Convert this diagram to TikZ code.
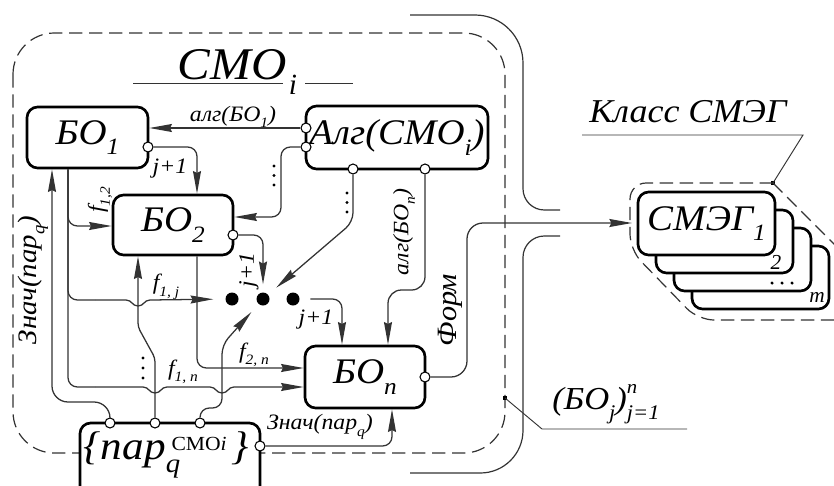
\documentclass[tikz,border=0pt]{standalone}
\usepackage{fontspec}
\setmainfont{Liberation Serif}
\usepackage{graphicx}
\usetikzlibrary{arrows.meta,calc}
\makeatletter
\newcommand\lsub[1]{\raisebox{-0.3em}{\fontsize{\the\dimexpr\f@size pt*65/100\relax}{0pt}\selectfont #1}}
\newcommand\usup[1]{\raisebox{0.5em}{\fontsize{\the\dimexpr\f@size pt*60/100\relax}{0pt}\selectfont #1}}
\makeatother
\newcommand\supsub[2]{\rlap{\usup{#1}}\lsub{#2}}
\newcommand\wide[1]{\scalebox{1.08}[1]{#1}}
\begin{document}
\begin{tikzpicture}[x=0.75pt,y=-0.75pt,
  box/.style={draw, line width=2pt, rounded corners=8pt, fill=white, inner sep=0pt},
  port/.style={circle, draw, line width=0.8pt, fill=white, inner sep=0pt, minimum size=7.5pt},
  conn/.style={draw=black!80, line width=0.95pt},
  rc/.style={rounded corners=7pt},
  arr/.style={-{Stealth[length=17pt,width=6pt,inset=1.5pt]}},
  bigdot/.style={circle, fill=black, inner sep=0pt, minimum size=9.75pt},
  sqdot/.style={rectangle, fill=black, inner sep=0pt, minimum size=3pt},
  dashedline/.style={draw=black!80, line width=0.9pt, dash pattern=on 10pt off 5pt},
  chanline/.style={draw=black!80, line width=0.9pt},
  thinline/.style={draw=black!80, line width=0.7pt},
  bigf/.style={font=\itshape\fontsize{27}{29}\selectfont, inner sep=0pt},
  lbl/.style={font=\itshape\fontsize{16.5}{18}\selectfont, inner sep=0pt},
  lblbig/.style={font=\itshape\fontsize{20}{22}\selectfont, inner sep=0pt},
  forml/.style={font=\itshape\fontsize{21}{23}\selectfont, inner sep=0pt},
  titlef/.style={font=\itshape\fontsize{34}{36}\selectfont, inner sep=0pt},
  titlesubf/.style={font=\itshape\fontsize{22}{24}\selectfont, inner sep=0pt},
  klassf/.style={font=\itshape\fontsize{25}{27}\selectfont, inner sep=0pt},
  bojf/.style={font=\itshape\fontsize{24}{26}\selectfont, inner sep=0pt},
  parf/.style={font=\itshape\fontsize{30}{32}\selectfont, inner sep=0pt},
  smallf/.style={font=\itshape\fontsize{16}{18}\selectfont, inner sep=0pt},
  smeg/.style={box, minimum width=102.75pt, minimum height=47.25pt},
  vdot/.style={circle, fill=black, inner sep=0pt, minimum size=2.6pt}
]
\useasboundingbox (0,0) rectangle (834,485);
\clip (0,0) rectangle (834,485);

% ---- outlines ----
\draw[dashedline, rounded corners=31pt] (13,33) rectangle (505,453);
\draw[chanline] (410,15) [rounded corners=36pt] -- (523,15) [rounded corners=16pt] -- (523,210) -- (560,210);
\draw[chanline] (560,236) [rounded corners=16pt] -- (523,236) [rounded corners=32pt] -- (523,473) -- (410,473);

% ---- SMEG stack ----
\node[sqdot] (kdot) at (773,183) {};
\draw[dashedline] (kdot.center) -- (860,270);
\draw[dashedline, rounded corners=12pt] (kdot.center) -- (630,183) -- (630,250) -- (698,320) -- (860,320);
\node[smeg] (S4) at (760.5,277.5) {};
\node[smeg] (S3) at (742.5,259.5) {};
\node[smeg] (S2) at (724.5,241.5) {};
\node[smeg, bigf] (S1) at (706.5,223.5) {\wide{СМЭГ\lsub{1}}};
\node[smallf] (s2l) at (776,262) {2};
\node[smallf] (sml) at (817,297) {m};
\node[vdot] (sd1) at (772,283) {};
\node[vdot] (sd2) at (782,283) {};
\node[vdot] (sd3) at (792,283) {};
\coordinate (smegin) at (632,223);

% ---- label pointers ----
\coordinate (kl1) at (803,135);
\coordinate (kl2) at (582,135);
\draw[thinline] (kdot.center) -- (kl1) -- (kl2);
\node[sqdot] (bdot) at (505,398) {};
\coordinate (bl1) at (542,429);
\coordinate (bl2) at (687,429);
\draw[thinline] (bdot.center) -- (bl1) -- (bl2);
\node[klassf] (tklass) at (688,112) {\wide{Класс СМЭГ}};
\node[bojf] (tboj) at (606,404) {\wide{(БО\lsub{j})\supsub{n}{j=1}}};

% ---- title ----
\node[titlef] (tcmo) at (232,65) {\wide{СМО}};
\node[titlesubf] (tcmoi) at (293,85) {i};
\draw[thinline] (133,83) -- (283,83);
\draw[thinline] (305,83) -- (353,83);

% ---- boxes ----
\node[box, bigf, minimum width=90.75pt, minimum height=45.75pt] (BO1) at (87.5,137.5) {\wide{БО\lsub{1}}};
\node[box, bigf, minimum width=136.5pt, minimum height=47.25pt] (ALG) at (397,137.5) {\wide{Алг(СМО\lsub{i})}};
\node[box, bigf, minimum width=90pt, minimum height=45pt] (BO2) at (173,225) {\wide{БО\lsub{2}}};
\node[box, bigf, minimum width=90pt, minimum height=46.5pt] (BOn) at (365,377) {\wide{БО\lsub{n}}};
\node[box, minimum width=135pt, minimum height=57.75pt] (PAR) at (170,461.5) {};
\node[parf] (partext) at (166,455) {\wide{\{пар\rlap{\raisebox{-0.33em}{\fontsize{20}{20}\selectfont q}}\kern4pt\raisebox{0.22em}{\upshape\fontsize{15}{15}\selectfont СМО\textit{i}}\kern3pt\}}};

% ---- ports ----
\node[port] (ap1) at (306,128) {};
\node[port] (ap2) at (306,147) {};
\node[port] (ap3) at (353,169) {};
\node[port] (ap4) at (425,169) {};
\node[port] (b1p) at (148,147) {};
\node[port] (b2p) at (233,235) {};
\node[port] (bnp) at (425,377) {};
\node[port] (pp1) at (110,423) {};
\node[port] (pp2) at (155,423) {};
\node[port] (pp3) at (200,423) {};
\node[port] (pp4) at (260,446) {};

% ---- big dots ----
\node[bigdot] (d1) at (232,299) {};
\node[bigdot] (d2) at (263,299) {};
\node[bigdot] (d3) at (293,299) {};

% ---- connectors ----
\draw[conn,arr] (ap1) -- (ap1 -| BO1.east);
\draw[conn,arr,rc] (b1p) -| ($(BO2.north)+(24,0)$);
\draw[conn,arr,rc] (ap2) -- (281,147) -- (281,217) -- ($(BO2.east)+(0,-8)$);
\draw[conn,arr,rc,shorten >=8pt] (ap3) -- (353,222) -- (d2);
\draw[conn,arr,rounded corners=10pt] (ap4) -- (425,290) -- (388,290) -- ($(BOn.north)+(23,0)$);
\draw[conn,arr,rc,shorten >=6pt] (b2p) -| (d2);
\draw[conn,arr,rc,shorten <=8pt] (d3) -| ($(BOn.north)+(-23,0)$);

\coordinate (f0) at ($(BO1.south)+(-19.5,0)$);
\coordinate (fj) at (95,300);
\coordinate (fn) at (95,387);
\draw[conn,arr,rc] (f0) |- ($(BO2.west)+(0,1)$);
\draw[conn,rc] (f0) |- (fj);
\draw[conn,arr,shorten >=9pt] (fj) -- (126,300) .. controls (132,300) and (132,306) .. (138,306) .. controls (144,306) and (144,300) .. (150,300) -- (d1);
\draw[conn,rc] (f0) |- (fn);
\draw[conn,arr] (fn) -- (143,387) .. controls (149,387) and (149,393) .. (155,393) .. controls (161,393) and (161,387) .. (167,387) -- (210,387) .. controls (216,387) and (216,393) .. (222,393) .. controls (228,393) and (228,387) .. (234,387) -- ($(BOn.west)+(0,10)$);
\draw[conn,arr,rc] ($(BO2.south)+(24,0)$) |- ($(BOn.west)+(0,-9)$);

\draw[conn,arr,rounded corners=12pt] (pp1) -- (110,402) -- (52,402) -- ($(BO1.south)+(-35.5,0)$);
\draw[conn,arr,rounded corners=3pt] (pp2) -- (155,358) -- (138,327) -- ($(BO2.south)+(-35,0)$);
\draw[conn,arr,rc,shorten >=8pt] (pp3) -- (200,408) -- (222,408) -- (222,345) -- (d2);
\draw[conn,arr,rc] (pp4) -| ($(BOn.south)+(27,0)$);
\draw[conn,arr,rounded corners=12pt] (bnp) -- (467,377) -- (467,223) -- (smegin);

% ---- vertical ellipses ----
\node[vdot] (e1) at (274,166) {};
\node[vdot] (e2) at (274,175.5) {};
\node[vdot] (e3) at (274,185) {};
\node[vdot] (e4) at (347,193) {};
\node[vdot] (e5) at (347,202.5) {};
\node[vdot] (e6) at (347,212) {};
\node[vdot] (e7) at (143,358) {};
\node[vdot] (e8) at (143,368) {};
\node[vdot] (e9) at (143,378) {};

% ---- labels ----
\node[lbl] (talg1) at (233,117) {\wide{алг(БО\lsub{1})}};
\node[lbl] (tj1) at (170,169) {\wide{j+1}};
\node[lbl, rotate=90] (tf12) at (100,200) {\wide{f\lsub{1,2}}};
\node[lbl, rotate=90] (talgn) at (404,232) {\wide{алг(БО\lsub{n})}};
\node[lbl, rotate=90] (tj2) at (249,270) {\wide{j+1}};
\node[lbl] (tf1j) at (166,287) {\wide{f\lsub{1, j}}};
\node[lbl] (tj3) at (316,320) {\wide{j+1}};
\node[lbl] (tf2n) at (254,355) {\wide{f\lsub{2, n}}};
\node[lbl] (tf1n) at (183,372) {\wide{f\lsub{1, n}}};
\node[lbl] (tzn1) at (320,427) {\wide{Знач(пар\lsub{q})}};
\node[lblbig, rotate=90] (tzn2) at (33,280) {\wide{Знач(пар\lsub{q})}};
\node[forml, rotate=90] (tform) at (450,310) {\wide{Форм}};
\end{tikzpicture}
\end{document}
